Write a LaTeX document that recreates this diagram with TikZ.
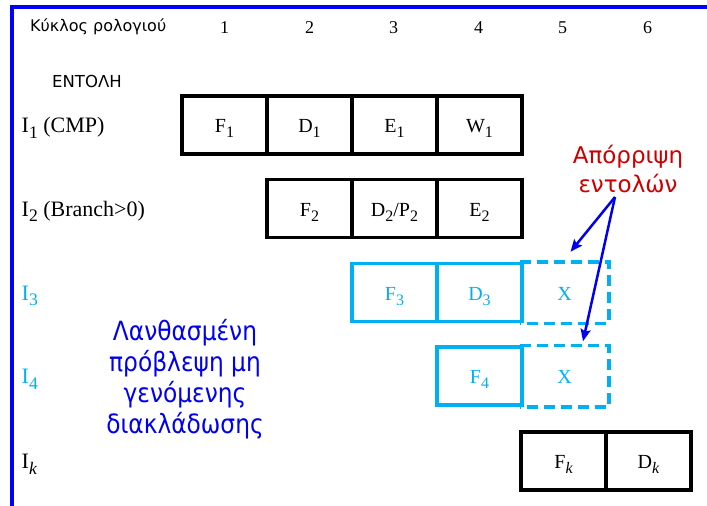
\documentclass[tikz,border=0pt]{standalone}
\usepackage{fontspec}
\usepackage{graphicx}
\setmainfont{Liberation Serif}
\newfontfamily\grfont{DejaVu Sans}
\newfontfamily\grnarrow[FakeStretch=0.88]{DejaVu Sans}
\usetikzlibrary{arrows.meta,calc}
\definecolor{cyanb}{RGB}{0,176,240}
\definecolor{frameblue}{RGB}{0,0,255}
\definecolor{redt}{RGB}{204,0,0}
\definecolor{bluet}{RGB}{0,0,240}
\newcommand{\sbx}[1]{\raisebox{-0.27em}{\scalebox{0.8}{#1}}}
\tikzset{
  cell/.style={draw=black, line width=3.5pt, minimum width=85pt, minimum height=58pt,
    inner sep=0pt, text height=15pt, text depth=0pt, font=\fontsize{20}{20}\selectfont},
  ccell/.style={cell, draw=cyanb, text=cyanb},
  xcell/.style={cell, draw=none, text=cyanb},
  dashline/.style={draw=cyanb, line width=3.5pt, dash pattern=on 11pt off 6pt},
  rowlabel/.style={anchor=base west, inner sep=0pt, font=\fontsize{22}{22}\selectfont},
  numlabel/.style={anchor=base, inner sep=0pt, font=\fontsize{18}{18}\selectfont},
  arr/.style={draw=bluet, line width=2.5pt, -{Stealth[length=12pt,width=10pt,inset=2pt]}}
}
\begin{document}
\begin{tikzpicture}[x=1pt,y=-1pt]
\useasboundingbox (0,0) rectangle (707,506);
% frame
\draw[frameblue, line width=4pt] (11.5,512) -- (11.5,7) -- (712,7);
% header
\node[anchor=base west, inner sep=0pt, font=\grfont\fontsize{16}{16}\selectfont] (hdr) at (30,31) {Κύκλος ρολογιού};
\node[numlabel] (n1) at (224.5,33) {1};
\node[numlabel] (n2) at (309.5,33) {2};
\node[numlabel] (n3) at (393.5,33) {3};
\node[numlabel] (n4) at (478.5,33) {4};
\node[numlabel] (n5) at (562.5,33) {5};
\node[numlabel] (n6) at (647.5,33) {6};
\node[anchor=base west, inner sep=0pt, font=\grfont\fontsize{16.5}{16.5}\selectfont] (entoli) at (52,87.3) {ΕΝΤΟΛΗ};
% row labels
\node[rowlabel] (l1) at (21.5,132.5) {I\sbx{1} (CMP)};
\node[rowlabel] (l2) at (21.5,216) {I\sbx{2} (Branch>0)};
\node[rowlabel, text=cyanb] (l3) at (21.5,300) {I\sbx{3}};
\node[rowlabel, text=cyanb] (l4) at (21.5,383.5) {I\sbx{4}};
\node[rowlabel] (l5) at (21.5,468.5) {I\sbx{\itshape k}};
% row 1
\node[cell] (f1) at (224.5,125) {F\sbx{1}};
\node[cell] (d1) at (309.5,125) {D\sbx{1}};
\node[cell] (e1) at (394.5,125) {E\sbx{1}};
\node[cell] (w1) at (479.5,125) {W\sbx{1}};
% row 2
\node[cell] (f2) at (309.5,208.5) {F\sbx{2}};
\node[cell] (d2) at (394.5,208.5) {D\sbx{2}/P\sbx{2}};
\node[cell] (e2) at (479.5,208.5) {E\sbx{2}};
% row 3
\node[ccell] (f3) at (394.5,292.5) {F\sbx{3}};
\node[ccell] (d3) at (479.5,292.5) {D\sbx{3}};
\node[xcell] (x3) at (564.5,292.5) {X};
\draw[dashline] (x3.north west) -- (x3.north east) -- (x3.south east) -- (x3.south west);
% row 4
\node[ccell] (f4) at (479.5,376) {F\sbx{4}};
\node[xcell] (x4) at (564.5,376) {X};
\draw[dashline] (x4.north west) -- (x4.north east) -- (x4.south east) -- (x4.south west);
% row k
\node[cell] (fk) at (563.5,461) {F\sbx{\itshape k}};
\node[cell] (dk) at (648.5,461) {D\sbx{\itshape k}};
% annotations
\node[anchor=base, align=center, inner sep=0pt, text=redt, font=\grfont\fontsize{23}{29}\selectfont] (rej) at (628,192) {Απόρριψη\\εντολών};
\node[anchor=base, align=center, inner sep=0pt, text=bluet, font=\grnarrow\fontsize{26.5}{31}\selectfont] (mis) at (185,433) {Λανθασμένη\\πρόβλεψη μη\\γενόμενης\\διακλάδωσης};
\coordinate (src) at (615,197);
\draw[arr] (src) -- ($(x3.north)+(6,-10)$);
\draw[arr] (src) -- ($(x4.north)+(18.5,-4)$);
\end{tikzpicture}
\end{document}
